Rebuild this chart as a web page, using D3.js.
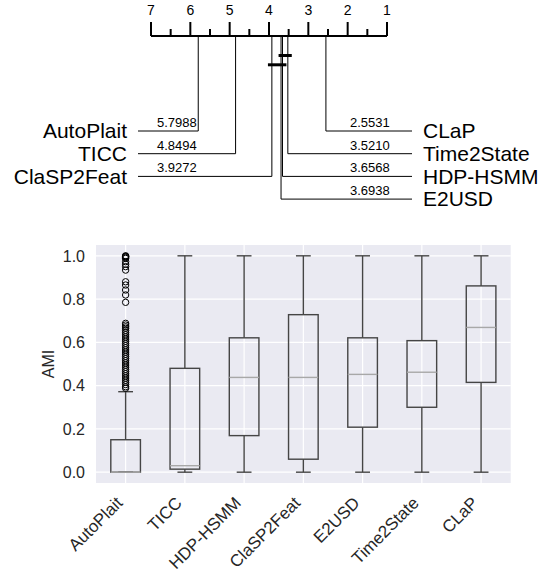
<!DOCTYPE html>
<html>
<head>
<meta charset="utf-8">
<script src="https://cdn.jsdelivr.net/npm/d3@7"></script>
<style>
  html, body { margin: 0; padding: 0; background: #fff; }
  svg { display: block; font-family: "Liberation Sans", Arial, sans-serif; }
</style>
</head>
<body>
<svg id="chart" width="554" height="575"></svg>
<script>
// ---------- Critical difference diagram data ----------
const cdMethods = ["AutoPlait", "TICC", "ClaSP2Feat", "E2USD", "HDP-HSMM", "Time2State", "CLaP"];
const cdRanks   = [5.7988, 4.8494, 3.9272, 3.6938, 3.6568, 3.5210, 2.5531];
const cdLeft    = ["AutoPlait", "TICC", "ClaSP2Feat"];
const cdRight   = ["CLaP", "Time2State", "HDP-HSMM", "E2USD"];
const rankTicks = [7, 6, 5, 4, 3, 2, 1];
const cliques   = [["HDP-HSMM", "Time2State"], ["ClaSP2Feat", "HDP-HSMM"]];

// ---------- Box plot data (AMI) ----------
const boxMethods = ["AutoPlait", "TICC", "HDP-HSMM", "ClaSP2Feat", "E2USD", "Time2State", "CLaP"];
const whiskLow   = [0.0, 0.0, 0.0, 0.0, 0.0, 0.0, 0.0];
const q1Vals     = [0.0, 0.014, 0.169, 0.060, 0.208, 0.300, 0.415];
const medVals    = [0.0, 0.030, 0.438, 0.438, 0.452, 0.462, 0.669];
const q3Vals     = [0.150, 0.480, 0.621, 0.728, 0.621, 0.608, 0.861];
const whiskHigh  = [0.372, 1.0, 1.0, 1.0, 1.0, 1.0, 1.0];
const autoPlaitOutliers = [
  1.0, 0.998, 0.996, 0.992, 0.988, 0.973, 0.961, 0.95, 0.934,
  0.88, 0.865, 0.842, 0.819, 0.785,
  0.688, 0.68, 0.672, 0.665, 0.655, 0.645, 0.635, 0.625, 0.615, 0.605,
  0.595, 0.585, 0.575, 0.565, 0.555, 0.545, 0.535, 0.525, 0.515, 0.505,
  0.495, 0.485, 0.475, 0.465, 0.455, 0.445, 0.435, 0.425, 0.415, 0.405, 0.395, 0.388
];
const yTicks = [0.0, 0.2, 0.4, 0.6, 0.8, 1.0];

const svg = d3.select("#chart");
const rankOf = m => cdRanks[cdMethods.indexOf(m)];

// ================= CD diagram =================
const rx = d3.scaleLinear().domain([7, 1]).range([151, 387]);
const axisY = 36;
const cd = svg.append("g");

cd.append("line").attr("x1", rx(7)).attr("x2", rx(1)).attr("y1", axisY).attr("y2", axisY)
  .attr("stroke", "#000").attr("stroke-width", 2);
const allTicks = d3.range(7, 0.99, -0.5);
cd.selectAll(".rt").data(allTicks).join("line")
  .attr("x1", d => rx(d)).attr("x2", d => rx(d))
  .attr("y1", d => Number.isInteger(d) ? 22 : 29).attr("y2", axisY)
  .attr("stroke", "#000").attr("stroke-width", 2);
cd.selectAll(".rl").data(rankTicks).join("text")
  .attr("x", d => rx(d)).attr("y", 15).attr("text-anchor", "middle")
  .attr("font-size", 14).attr("fill", "#000").text(d => d);

const rowY = i => 131 + i * 22.7;
const leftLineX = 138, rightLineX = 412;

cdLeft.forEach((m, i) => {
  const x = rx(rankOf(m)), y = rowY(i);
  cd.append("path").attr("d", `M${x},${axisY}V${y}H${leftLineX}`)
    .attr("fill", "none").attr("stroke", "#000").attr("stroke-width", 1);
  cd.append("text").attr("x", 127).attr("y", y).attr("dy", "0.35em")
    .attr("text-anchor", "end").attr("font-size", 21).text(m);
  cd.append("text").attr("x", 157).attr("y", y - 4)
    .attr("font-size", 13).text(rankOf(m).toFixed(4));
});
cdRight.forEach((m, i) => {
  const x = rx(rankOf(m)), y = rowY(i);
  cd.append("path").attr("d", `M${x},${axisY}V${y}H${rightLineX}`)
    .attr("fill", "none").attr("stroke", "#000").attr("stroke-width", 1);
  cd.append("text").attr("x", 423).attr("y", y).attr("dy", "0.35em")
    .attr("text-anchor", "start").attr("font-size", 21).text(m);
  cd.append("text").attr("x", 350).attr("y", y - 4)
    .attr("font-size", 13).text(rankOf(m).toFixed(4));
});
const cliqueY = [55.5, 64.8];
cliques.forEach((c, i) => {
  const r = c.map(rankOf);
  cd.append("line")
    .attr("x1", rx(d3.max(r) + 0.1)).attr("x2", rx(d3.min(r) - 0.1))
    .attr("y1", cliqueY[i]).attr("y2", cliqueY[i])
    .attr("stroke", "#000").attr("stroke-width", 3);
});

// ================= Box plot =================
const L = 96, R = 510.7, T = 245, B = 483;
const x = d3.scaleLinear().domain([0.5, 7.5]).range([L, R]);
const y = d3.scaleLinear().domain([-0.05, 1.05]).range([B, T]);
const bp = svg.append("g");

bp.append("rect").attr("x", L).attr("y", T).attr("width", R - L).attr("height", B - T).attr("fill", "#EAEAF2");
bp.selectAll(".gy").data(yTicks).join("line")
  .attr("x1", L).attr("x2", R).attr("y1", d => y(d)).attr("y2", d => y(d))
  .attr("stroke", "#fff").attr("stroke-width", 1.2);
bp.selectAll(".gx").data(boxMethods).join("line")
  .attr("x1", (d, i) => x(i + 1)).attr("x2", (d, i) => x(i + 1)).attr("y1", T).attr("y2", B)
  .attr("stroke", "#fff").attr("stroke-width", 1.2);

bp.selectAll(".yl").data(yTicks).join("text")
  .attr("x", 85).attr("y", d => y(d)).attr("dy", "0.36em").attr("text-anchor", "end")
  .attr("font-size", 16).attr("fill", "#262626").text(d => d.toFixed(1));
bp.append("text").attr("transform", `translate(54,${(T + B) / 2}) rotate(-90)`)
  .attr("text-anchor", "middle").attr("font-size", 16).attr("fill", "#262626").text("AMI");

bp.selectAll(".xl").data(boxMethods).join("text")
  .attr("transform", (d, i) => `translate(${x(i + 1) - 2},${B + 21}) rotate(-45)`)
  .attr("text-anchor", "end").attr("font-size", 17).attr("fill", "#262626").text(d => d);

const bw = (x(1.25) - x(1));
const boxColor = "#454545", medColor = "#a8a8a8";
boxMethods.forEach((m, i) => {
  const cx = x(i + 1);
  const g = bp.append("g");
  g.append("line").attr("x1", cx).attr("x2", cx).attr("y1", y(q3Vals[i])).attr("y2", y(whiskHigh[i]))
    .attr("stroke", boxColor).attr("stroke-width", 1.4);
  g.append("line").attr("x1", cx).attr("x2", cx).attr("y1", y(q1Vals[i])).attr("y2", y(whiskLow[i]))
    .attr("stroke", boxColor).attr("stroke-width", 1.4);
  [whiskHigh[i], whiskLow[i]].forEach(v => {
    g.append("line").attr("x1", cx - bw / 2).attr("x2", cx + bw / 2).attr("y1", y(v)).attr("y2", y(v))
      .attr("stroke", boxColor).attr("stroke-width", 1.4);
  });
  g.append("rect").attr("x", cx - bw).attr("width", 2 * bw)
    .attr("y", y(q3Vals[i])).attr("height", y(q1Vals[i]) - y(q3Vals[i]))
    .attr("fill", "none").attr("stroke", boxColor).attr("stroke-width", 1.4);
  g.append("line").attr("x1", cx - bw).attr("x2", cx + bw).attr("y1", y(medVals[i])).attr("y2", y(medVals[i]))
    .attr("stroke", medColor).attr("stroke-width", 1.4);
});
bp.selectAll(".out").data(autoPlaitOutliers).join("circle")
  .attr("cx", x(1)).attr("cy", d => y(d)).attr("r", 3.2)
  .attr("fill", "none").attr("stroke", "#000").attr("stroke-width", 1);
</script>
</body>
</html>
